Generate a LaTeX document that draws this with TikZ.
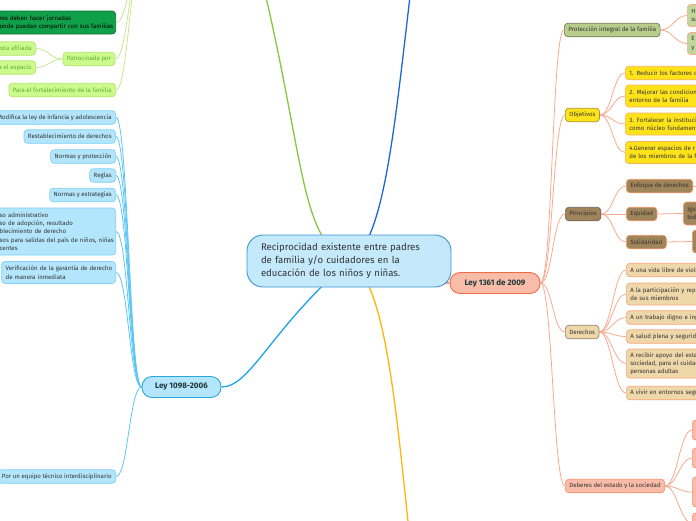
\documentclass[tikz,border=0pt]{standalone}
\usepackage{fontspec}
\setmainfont{Fira Sans}
\usepackage{tikz}
\usetikzlibrary{backgrounds}

\definecolor{txt}{HTML}{333333}
\definecolor{leytxt}{HTML}{1F3838}
\definecolor{centrefill}{HTML}{C4E9FB}
\definecolor{centreline}{HTML}{3E95D5}
\definecolor{lbfill}{HTML}{B3E5FC}
\definecolor{lbline}{HTML}{29A8E0}
\definecolor{lbchild}{HTML}{7FD0F5}
\definecolor{lblink}{HTML}{5CC6F5}
\definecolor{salfill}{HTML}{F9BCA8}
\definecolor{salline}{HTML}{F26B45}
\definecolor{sallink}{HTML}{F8A98E}
\definecolor{salchild}{HTML}{F5906C}
\definecolor{olfill}{HTML}{B8CC8C}
\definecolor{olline}{HTML}{6F7A5B}
\definecolor{olchild}{HTML}{C2D69B}
\definecolor{yefill}{HTML}{FFE31A}
\definecolor{yeline}{HTML}{A69236}
\definecolor{yechild}{HTML}{F6B35D}
\definecolor{brfill}{HTML}{A0845A}
\definecolor{brline}{HTML}{6D665B}
\definecolor{brchild}{HTML}{F29A6E}
\definecolor{tafill}{HTML}{EED7A9}
\definecolor{taline}{HTML}{8E8472}
\definecolor{tachild}{HTML}{F8A57F}
\definecolor{dgfill}{HTML}{10A04A}
\definecolor{dgline}{HTML}{0B7034}
\definecolor{lgfill}{HTML}{CDFA8E}
\definecolor{lgline}{HTML}{B2E66A}
\definecolor{lgtxt}{HTML}{5DB02A}
\definecolor{lglink}{HTML}{C6E78F}
\definecolor{greenmain}{HTML}{8CC43C}
\definecolor{bluemain}{HTML}{1AA3E8}
\definecolor{darkblue}{HTML}{1E66D6}
\definecolor{amber}{HTML}{FFB60A}

\tikzstyle{box} = [draw, line width=0.7pt, rounded corners=3.5pt, inner xsep=4pt, inner ysep=2pt, minimum height=13.5pt, font=\fontsize{6.1}{8.2}\selectfont, text=txt]
\tikzstyle{twoline} = [minimum height=22pt, align=left]
\tikzstyle{rightcut} = [anchor=west, text width=80pt, align=left]
\tikzstyle{leftcut} = [anchor=east, text width=112pt, align=left]
\tikzstyle{bluebox} = [box, fill=lbfill, draw=lbchild]
\tikzstyle{darkgreenbox} = [box, fill=dgfill, draw=dgline, text=black]
\tikzstyle{lightgreenbox} = [box, fill=lgfill, draw=lgline, text=lgtxt]
\tikzstyle{olivebox} = [box, fill=olfill, draw=olline]
\tikzstyle{olivechild} = [box, fill=olchild, draw=sallink]
\tikzstyle{yellowbox} = [box, fill=yefill, draw=yeline]
\tikzstyle{yellowchild} = [box, fill=yefill, draw=yechild]
\tikzstyle{brownbox} = [box, fill=brfill, draw=brline]
\tikzstyle{brownchild} = [box, fill=brfill, draw=brchild]
\tikzstyle{tanbox} = [box, fill=tafill, draw=taline]
\tikzstyle{tanchild} = [box, fill=tafill, draw=tachild]
\tikzstyle{salmonbox} = [box, fill=salfill, draw=salchild]
\tikzstyle{ley} = [draw, line width=0.9pt, rounded corners=10pt, minimum height=21pt, font=\fontsize{8}{10}\selectfont\bfseries, text=leytxt]
\tikzstyle{branch} = [out=0, in=180, distance=12pt]
\tikzstyle{bluelink} = [draw=lblink, line width=0.8pt]
\tikzstyle{redlink} = [draw=sallink, line width=0.8pt]
\tikzstyle{greenlink} = [draw=lglink, line width=0.8pt]
\tikzstyle{mainlink} = [line width=1.3pt]

\begin{document}
\begin{tikzpicture}[x=1pt, y=-1pt]
\useasboundingbox (0,0) rectangle (696,520);
\clip (0,0) rectangle (696,520);

%% centre
\node[draw=centreline, fill=centrefill, line width=0.9pt, rounded corners=16pt, text width=176pt, align=left, inner xsep=14pt, minimum height=52pt, font=\fontsize{9.6}{13}\selectfont, text=txt] (centre) at (349,261)
  {Reciprocidad existente entre padres\\de familia y/o cuidadores en la\\educación de los niños y niñas.};
\node[ley, fill=salfill, draw=salline, minimum width=90pt] (ley1361) at (495,283) {Ley 1361 de 2009};
\node[ley, fill=lbfill, draw=lbline, minimum width=79pt] (ley1098) at (181.5,387) {Ley 1098-2006};
\coordinate (greentop) at (262,-20);
\coordinate (greenhub) at (142,-40);
\coordinate (bluetop) at (412,-20);
\coordinate (ambertail) at (410,540);

%% green branch
\node[darkgreenbox, leftcut, minimum height=23pt] (jornadas) at (116,22.5) {res deben hacer jornadas\\\mbox{onde puedan compartir con sus familias}};
\node[lightgreenbox, minimum width=52pt] (patro) at (89,59) {Patrocinada por};
\node[lightgreenbox, anchor=east] (afiliada) at (36,48.5) {esta afiliada};
\node[lightgreenbox, anchor=east] (espacio) at (36,67.5) {a el espacio};
\node[lightgreenbox, anchor=east] (fortal) at (116,90) {Para el fortalecimiento de la familia};

%% Ley 1098-2006
\node[bluebox, anchor=east] (modif) at (116,117.5) {Modifica la ley de infancia y adolescencia};
\node[bluebox, anchor=east] (restab) at (116,136.5) {Restablecimiento de derechos};
\node[bluebox, anchor=east] (normprot) at (116,156.5) {Normas y protección};
\node[bluebox, anchor=east] (reglas) at (116,175.5) {Reglas};
\node[bluebox, anchor=east] (normestr) at (116,195) {Normas y estrategias};
\node[bluebox, leftcut, minimum height=47pt] (proceso) at (116,231.5)
  {so administrativo\\so de adopción, resultado\\blecimiento de derecho\\\mbox{sos para salidas del país de niños, niñas}\\centes};
\node[bluebox, twoline, anchor=east, text width=106pt] (verif) at (116,272.5) {\mbox{Verificación de la garantía de derecho}\\de manera inmediata};
\node[bluebox, anchor=east] (equipo) at (116,476.5) {Por un equipo técnico interdisciplinario};

%% Ley 1361 de 2009
\node[olivebox, anchor=west] (protec) at (564,30) {Protección integral de la familia};
\node[olivechild, rightcut, twoline] (protH) at (687,15.5) {H\\su};
\node[olivechild, rightcut, twoline] (protE) at (687,43.5) {E\\y};

\node[yellowbox, anchor=west] (objet) at (565,115) {Objetivos};
\node[yellowchild, rightcut] (obj1) at (625,73) {1. Reducir los factores d};
\node[yellowchild, rightcut, twoline] (obj2) at (625,96) {2. Mejorar las condicion\\entorno de la familia};
\node[yellowchild, rightcut, twoline] (obj3) at (625,124) {3. Fortalecer la institució\\como núcleo fundament};
\node[yellowchild, rightcut, twoline] (obj4) at (625,152.5) {4.Generar espacios de r\\de los miembros de la fa};

\node[brownbox, anchor=west] (princ) at (565,214) {Principios};
\node[brownchild, anchor=west] (enfoque) at (626,186) {Enfoque de derechos};
\node[brownchild, anchor=west] (equidad) at (626,214) {Equidad};
\node[brownchild, rightcut, twoline, minimum height=23pt] (igual) at (683,213.5) {Igu\\tod};
\node[brownchild, anchor=west] (solid) at (626,242) {Solidaridad};
\node[brownchild, rightcut, minimum height=23pt] (solidch) at (692,241.5) {};
\coordinate (enfoquehub) at (730,186);

\node[tanbox, anchor=west] (derech) at (565,332) {Derechos};
\node[tanchild, rightcut] (der1) at (626,270) {A una vida libre de viole};
\node[tanchild, rightcut, twoline] (der2) at (626,294) {A la participación y repre\\de sus miembros};
\node[tanchild, rightcut] (der3) at (626,317.5) {A un trabajo digno e ing};
\node[tanchild, rightcut] (der4) at (626,336.5) {A salud plena y segurida};
\node[tanchild, rightcut, align=left, minimum height=29pt] (der5) at (626,363.5) {A recibir apoyo del esta\\sociedad, para el cuidad\\personas adultas};
\node[tanchild, rightcut] (der6) at (626,393) {A vivir en entornos segu};

\node[salmonbox, anchor=west] (deberes) at (565,486) {Deberes del estado y la sociedad};
\node[salmonbox, rightcut, minimum height=20pt] (deb1) at (692,430) {};
\node[salmonbox, rightcut, minimum height=20pt] (deb2) at (692,458) {};
\node[salmonbox, rightcut, minimum height=30pt] (deb3) at (692,492) {};
\node[salmonbox, rightcut, minimum height=20pt] (deb4) at (692,523) {};

%% connectors
\begin{scope}[on background layer]
\draw[mainlink, greenmain] (centre.center) .. controls +(-49,-21) and +(43,180) .. (greentop);
\draw[mainlink, darkblue] (centre.center) .. controls +(36,-16) and +(-17,140) .. (bluetop);
\draw[mainlink, amber] (centre.center) .. controls +(36,19) and +(-15,-140) .. (ambertail);
\draw[mainlink, bluemain] (centre.center) .. controls +(-79,69) and +(29,0) .. (ley1098.east);
\draw[mainlink, salline] (centre.center) .. controls +(60,0) and +(-30,0) .. (ley1361.west);

\foreach \n in {jornadas,patro,fortal}
  \draw[greenlink] (\n.east) to[branch] (greenhub);
\foreach \n in {afiliada,espacio}
  \draw[greenlink] (\n.east) to[branch] (patro.west);

\foreach \n in {modif,restab,normprot,reglas,normestr,proceso,verif,equipo}
  \draw[bluelink] (\n.east) to[branch] (ley1098.west);

\foreach \n in {protec,objet,princ,derech,deberes}
  \draw[redlink] (ley1361.east) to[branch] (\n.west);
\foreach \n in {protH,protE}
  \draw[redlink] (protec.east) to[branch] (\n.west);
\foreach \n in {obj1,obj2,obj3,obj4}
  \draw[redlink] (objet.east) to[branch] (\n.west);
\foreach \n in {enfoque,equidad,solid}
  \draw[redlink] (princ.east) to[branch] (\n.west);
\draw[redlink] (enfoque.east) -- (enfoquehub);
\draw[redlink] (equidad.east) -- (igual.west);
\draw[redlink] (solid.east) -- (solidch.west);
\foreach \n in {der1,der2,der3,der4,der5,der6}
  \draw[redlink] (derech.east) to[branch] (\n.west);
\foreach \n in {deb1,deb2,deb3,deb4}
  \draw[redlink] (deberes.east) to[branch] (\n.west);
\end{scope}
\end{tikzpicture}
\end{document}
